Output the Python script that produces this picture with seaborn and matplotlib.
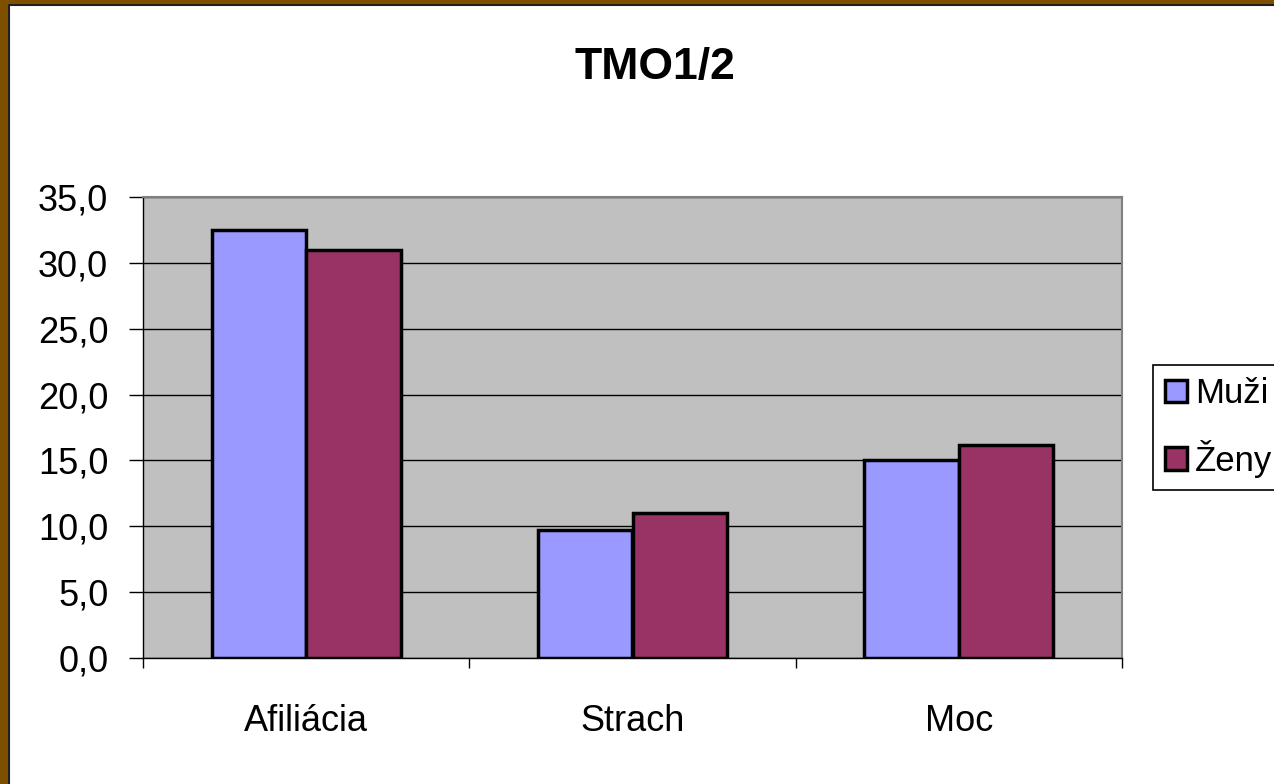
import pandas as pd
import matplotlib.pyplot as plt
import seaborn as sns
from matplotlib.patches import Rectangle
from matplotlib.ticker import FuncFormatter

categories = ["Afiliácia", "Strach", "Moc"]
muzi = [32.5, 9.7, 15.0]
zeny = [31.0, 11.0, 16.2]
series = ["Muži", "Ženy"]
colors = ["#9999FF", "#993366"]

df = pd.DataFrame({
    "kategoria": categories * 2,
    "hodnota": muzi + zeny,
    "pohlavie": [series[0]] * 3 + [series[1]] * 3,
})

sns.set_style("white")
plt.rcParams["font.family"] = ["Liberation Sans", "DejaVu Sans"]
plt.rcParams["text.color"] = "black"
plt.rcParams["xtick.color"] = "black"
plt.rcParams["ytick.color"] = "black"

fig = plt.figure(figsize=(12.74, 7.84), dpi=100)
ax = fig.add_axes([143/1274, 1 - 658/784, (1122 - 143)/1274, (658 - 197)/784])
ax.set_facecolor("#C0C0C0")

sns.barplot(data=df, x="kategoria", y="hodnota", hue="pohlavie",
            palette=colors, saturation=1, width=0.58, gap=0, edgecolor="black",
            linewidth=2.5, ax=ax, zorder=3)

ax.set_ylim(0, 35)
ax.set_xlim(-0.5, 2.5)
ax.set_yticks(range(0, 36, 5))
ax.yaxis.set_major_formatter(FuncFormatter(lambda v, p: f"{v:.1f}".replace(".", ",")))
ax.grid(axis="y", color="black", linewidth=1, zorder=0)
ax.set_axisbelow(True)
ax.set_xlabel("")
ax.set_ylabel("")

ax.set_xticks([-0.5, 0.5, 1.5, 2.5], minor=True)
ax.tick_params(axis="x", which="major", length=0, pad=33, labelsize=26, labelcolor="black")
ax.tick_params(axis="x", which="minor", length=7, width=1, color="black", direction="out", bottom=True)
ax.tick_params(axis="y", length=10, width=1, color="black", direction="out", left=True,
               labelsize=26, pad=15, labelcolor="black")

for side in ["top", "right"]:
    ax.spines[side].set_color("#808080")
    ax.spines[side].set_linewidth(1.5)
for side in ["left", "bottom"]:
    ax.spines[side].set_color("black")
    ax.spines[side].set_linewidth(1)

leg = ax.legend(loc="lower left", bbox_to_anchor=(1153/1274, 1 - 490/784),
                bbox_transform=fig.transFigure, borderaxespad=0, fontsize=25,
                frameon=True, fancybox=False, edgecolor="black", framealpha=1,
                handlelength=0.63, handleheight=0.63, handletextpad=0.22,
                labelspacing=0.85, borderpad=0.35)
leg.get_frame().set_linewidth(1.2)
for t in leg.get_texts():
    t.set_color("black")

fig.suptitle("TMO1/2", x=655/1274, y=1 - 47/784, fontsize=32, fontweight="bold",
             va="top", color="black")

# hnedý okraj vľavo a hore
fig.patches.append(Rectangle((0, 0), 8/1274, 1, transform=fig.transFigure,
                             facecolor="#7F4F00", edgecolor="none", zorder=10))
fig.patches.append(Rectangle((0, 1 - 4/784), 1, 4/784, transform=fig.transFigure,
                             facecolor="#7F4F00", edgecolor="none", zorder=10))
fig.lines.append(plt.Line2D([9/1274, 9/1274], [0, 1 - 5/784], transform=fig.transFigure,
                            color="#202020", linewidth=1.5))
fig.lines.append(plt.Line2D([9/1274, 1], [1 - 5/784, 1 - 5/784], transform=fig.transFigure,
                            color="#202020", linewidth=1.5))

fig.savefig("out.png", dpi=100)
